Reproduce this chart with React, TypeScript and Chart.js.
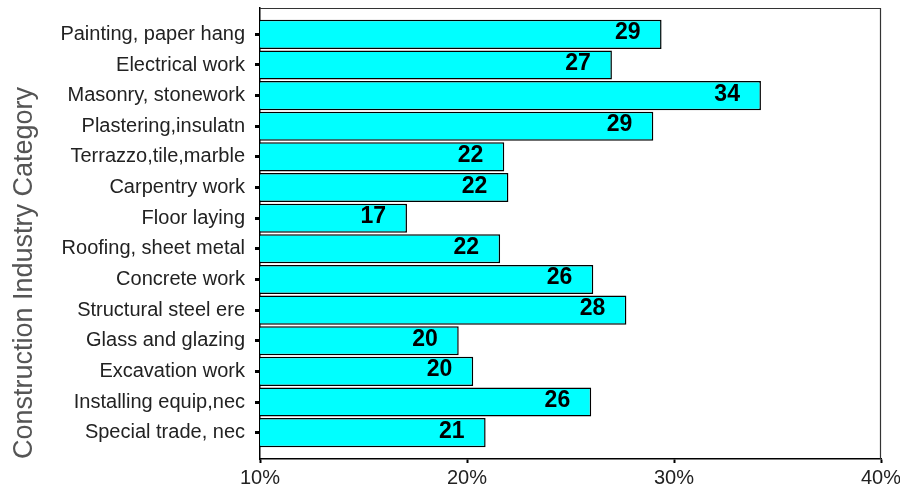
import React, { useEffect, useRef } from "react";
import { Chart, registerables } from "chart.js";

Chart.register(...registerables);

const categories = [
  "Painting, paper hang",
  "Electrical work",
  "Masonry, stonework",
  "Plastering,insulatn",
  "Terrazzo,tile,marble",
  "Carpentry work",
  "Floor laying",
  "Roofing, sheet metal",
  "Concrete work",
  "Structural steel ere",
  "Glass and glazing",
  "Excavation work",
  "Installing equip,nec",
  "Special trade, nec",
];

const values = [29.4, 27.0, 34.2, 29.0, 21.8, 22.0, 17.1, 21.6, 26.1, 27.7, 19.6, 20.3, 26.0, 20.9];

const valueLabels = ["29", "27", "34", "29", "22", "22", "17", "22", "26", "28", "20", "20", "26", "21"];

const xTicks = [10, 20, 30, 40];

const axisTitle = "Construction Industry Category";

export default function App() {
  const ref = useRef<HTMLCanvasElement | null>(null);

  useEffect(() => {
    if (!ref.current) return;
    const decor = {
      id: "decor",
      afterDatasetsDraw(chart: any) {
        const ctx = chart.ctx;
        const a = chart.chartArea;
        ctx.save();
        // frame top & right
        ctx.strokeStyle = "#333";
        ctx.lineWidth = 1.2;
        ctx.beginPath();
        ctx.moveTo(a.left, a.top + 0.5);
        ctx.lineTo(a.right - 0.5, a.top + 0.5);
        ctx.lineTo(a.right - 0.5, a.bottom);
        ctx.stroke();
        // value labels
        const meta = chart.getDatasetMeta(0);
        ctx.fillStyle = "#000";
        ctx.font = 'bold 23px "Liberation Sans", Arial, sans-serif';
        ctx.textAlign = "right";
        ctx.textBaseline = "alphabetic";
        meta.data.forEach((bar: any, i: number) => {
          ctx.fillText(valueLabels[i], bar.x - 21, bar.y + 5);
        });
        // y axis title
        ctx.translate(32, 273);
        ctx.rotate(-Math.PI / 2);
        ctx.font = '27px "Liberation Sans", Arial, sans-serif';
        ctx.fillStyle = "#555";
        ctx.textAlign = "center";
        ctx.fillText(axisTitle, 0, 0);
        ctx.restore();
      },
    };

    const chart = new Chart(ref.current, {
      type: "bar",
      data: {
        datasets: [
          {
            data: values.map((v, i) => ({ x: v, y: i })),
            backgroundColor: "#00FFFF",
            borderColor: "#000",
            borderWidth: 1.5,
            barPercentage: 0.95,
            categoryPercentage: 1,
          } as any,
        ],
      },
      options: {
        indexAxis: "y",
        animation: false,
        responsive: false,
        maintainAspectRatio: false,
        layout: { padding: { top: 8, right: 19, bottom: 0, left: 0 } },
        plugins: { legend: { display: false }, tooltip: { enabled: false } },
        scales: {
          x: {
            type: "linear",
            min: 10,
            max: 40,
            offset: false,
            afterBuildTicks: (s: any) => {
              s.ticks = xTicks.map((v) => ({ value: v }));
            },
            afterFit: (s: any) => {
              s.height = 34;
              s.paddingLeft = 0;
              s.paddingRight = 0;
            },
            ticks: {
              callback: (v: any) => v + "%",
              font: { family: '"Liberation Sans", Arial, sans-serif', size: 20 },
              color: "#222",
              padding: 3,
              maxRotation: 0,
            },
            grid: { offset: false, drawOnChartArea: false, drawTicks: true, tickLength: 4, tickWidth: 2, color: "#000" },
            border: { color: "#000", width: 1.5 },
          },
          y: {
            type: "linear",
            reverse: true,
            min: -0.86,
            max: 13.86,
            offset: false,
            afterBuildTicks: (s: any) => {
              s.ticks = categories.map((_, i) => ({ value: i }));
            },
            afterFit: (s: any) => {
              s.width = 260;
              s.paddingTop = 0;
              s.paddingBottom = 0;
            },
            ticks: {
              autoSkip: false,
              callback: (v: any) => categories[v as number],
              font: { family: '"Liberation Sans", Arial, sans-serif', size: 20 },
              color: "#222",
              padding: 10,
            },
            grid: { offset: false, drawOnChartArea: false, drawTicks: true, tickLength: 5, tickWidth: 3, color: "#000" },
            border: { color: "#000", width: 1.5 },
          },
        },
      } as any,
      plugins: [decor],
    });
    return () => chart.destroy();
  }, []);

  return (
    <div style={{ position: "absolute", left: 0, top: 0, width: 900, height: 493, background: "#fff" }}>
      <canvas ref={ref} width={900} height={493} style={{ display: "block", width: 900, height: 493 }} />
    </div>
  );
}
